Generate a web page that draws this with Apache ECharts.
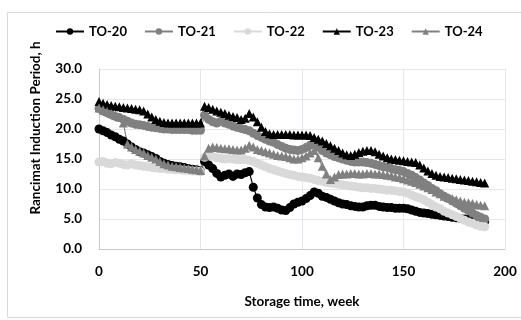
<!DOCTYPE html>
<html>
<head>
<meta charset="utf-8">
<script src="https://cdn.jsdelivr.net/npm/echarts@6/dist/echarts.min.js"></script>
<style>html,body{margin:0;padding:0;background:#fff}#c{width:521px;height:320px}</style>
</head>
<body>
<div id="c"></div>
<script>
var weeks = [0,2,4,6,8,10,12,14,16,18,20,22,24,26,28,30,32,34,36,38,40,42,44,46,48,50,
  52,54,56,58,60,62,64,66,68,70,72,74,76,78,80,82,84,86,88,90,92,94,96,98,100,102,104,106,108,110,
  112,114,116,118,120,122,124,126,128,130,132,134,136,138,140,142,144,146,148,150,152,154,156,158,160,
  162,164,166,168,170,172,174,176,178,180,182,184,186,188,190];
var seriesNames = ['TO-20','TO-21','TO-22','TO-23','TO-24'];
var to20 = [20.0,19.7,19.4,19.0,18.7,18.3,18.0,17.5,17.0,16.6,16.2,16.0,15.7,15.4,15.1,14.6,14.3,14.1,13.9,13.8,13.7,13.6,13.4,13.3,13.2,13.0,
  14.6,14.0,13.4,12.6,12.0,12.3,12.5,12.1,12.5,12.4,12.7,12.9,10.3,8.5,7.4,7.0,6.9,7.0,6.8,6.5,6.4,6.9,7.5,7.8,8.0,8.4,8.9,9.5,9.3,8.8,
  8.6,8.3,8.0,7.7,7.5,7.4,7.2,7.1,7.0,7.0,7.2,7.3,7.3,7.1,7.0,6.9,6.9,6.8,6.8,6.8,6.7,6.5,6.3,6.1,6.0,
  5.9,5.8,5.7,5.6,5.5,5.4,5.3,5.2,5.1,5.0,4.9,4.8,4.7,4.6,4.6];
var to21 = [23.4,23.0,22.7,22.4,22.1,21.9,21.6,21.3,21.0,20.8,20.7,20.6,20.4,20.3,20.2,20.1,20.0,20.0,19.9,19.9,19.9,19.9,19.9,19.8,19.8,19.8,
  22.3,21.6,21.2,21.0,21.3,21.0,20.8,20.5,20.3,20.1,19.9,19.7,19.3,18.9,18.6,18.3,18.0,17.8,17.4,17.1,16.8,16.6,16.5,16.4,16.6,16.9,17.3,17.6,17.0,16.4,
  16.0,15.7,15.4,15.2,15.0,14.8,14.6,14.5,14.5,14.5,14.4,14.3,14.1,13.9,13.7,13.6,13.4,13.2,13.1,12.9,12.6,12.3,11.9,11.5,11.0,
  10.6,10.1,9.7,9.2,8.8,8.4,8.0,7.6,7.2,6.8,6.4,6.0,5.6,5.3,5.0];
var to22 = [14.5,14.6,14.3,14.2,14.4,14.3,14.1,14.0,14.2,14.0,13.9,13.8,13.7,13.6,13.5,13.4,13.4,13.3,13.3,13.2,13.2,13.1,13.1,13.0,13.0,12.9,
  15.3,15.6,15.4,15.2,15.1,15.0,15.1,15.0,14.9,14.9,14.9,14.8,14.6,14.3,14.0,13.7,13.4,13.2,13.0,12.8,12.6,12.4,12.3,12.1,12.0,11.9,11.8,11.6,11.4,11.3,
  11.1,11.0,10.9,10.8,10.7,10.6,10.5,10.4,10.3,10.2,10.2,10.1,10.1,10.0,9.9,9.8,9.8,9.7,9.6,9.5,9.3,9.0,8.7,8.5,8.2,
  7.8,7.4,7.0,6.7,6.3,6.0,5.7,5.4,5.1,4.8,4.5,4.3,4.0,3.8,3.7];
var to23 = [24.6,24.3,24.1,23.9,23.8,23.7,23.6,23.5,23.4,23.3,23.2,23.0,22.5,22.0,21.6,21.3,21.1,21.0,21.0,21.0,21.0,21.0,21.0,21.0,21.0,21.0,
  23.8,23.6,23.3,23.0,22.8,22.6,22.3,22.1,21.9,21.6,21.8,22.6,22.0,21.2,20.3,19.6,19.2,19.1,19.1,19.1,19.1,19.1,19.0,19.0,19.0,19.0,18.9,18.6,18.3,18.0,
  17.6,17.2,16.8,16.4,16.0,15.7,15.6,15.8,16.1,16.3,16.4,16.4,16.2,15.8,15.5,15.2,15.0,14.9,14.8,14.7,14.6,14.5,14.4,14.0,13.5,
  13.0,12.6,12.3,12.1,12.0,11.9,11.8,11.7,11.6,11.5,11.4,11.3,11.2,11.1,11.0];
var to24 = [23.5,23.2,22.9,22.6,22.3,22.0,21.0,17.5,17.0,16.6,16.3,16.0,15.6,15.3,15.0,14.6,14.2,14.0,13.8,13.7,13.6,13.5,13.4,13.3,13.2,13.1,
  15.5,16.8,17.0,16.9,16.8,16.7,16.7,16.6,16.5,16.5,16.8,17.3,17.0,16.6,16.4,16.2,16.0,15.8,15.6,15.5,15.4,15.2,15.0,15.0,15.2,15.5,16.0,16.4,15.2,13.8,
  12.5,11.6,12.0,12.4,12.5,12.5,12.6,12.6,12.5,12.5,12.6,12.6,12.5,12.5,12.4,12.3,12.2,12.0,11.9,11.7,11.5,11.3,11.1,10.8,10.5,
  10.2,9.9,9.5,9.2,8.8,8.6,8.4,8.2,8.0,7.8,7.7,7.6,7.4,7.3,7.2];
var xTicks = [0,50,100,150,200];
var yTicks = [0,5,10,15,20,25,30];

var FONT = 'Lato';
function pairs(arr){ return weeks.map(function(w,i){ return [w, arr[i]]; }); }
var defs = [
  {name:'TO-20', data:to20, color:'#000000', symbol:'circle', size:9},
  {name:'TO-21', data:to21, color:'#808080', symbol:'circle', size:9},
  {name:'TO-22', data:to22, color:'#d9d9d9', symbol:'circle', size:9},
  {name:'TO-23', data:to23, color:'#000000', symbol:'triangle', size:9},
  {name:'TO-24', data:to24, color:'#808080', symbol:'triangle', size:9}
];
var chart = echarts.init(document.getElementById('c'), null, {renderer:'canvas'});
chart.setOption({
  animation:false,
  backgroundColor:'#ffffff',
  graphic:[
    {type:'rect', shape:{x:7.5,y:12.5,width:520,height:305}, style:{fill:'none', stroke:'#d9d9d9', lineWidth:1}, z:-1},
    {type:'text', x:36, y:128, rotation:Math.PI/2, style:{text:'Rancimat Induction Period, h', font:'bold 13.5px '+FONT, fill:'#000', align:'center', verticalAlign:'middle'}}
  ],
  legend:{
    top:20, left:50, itemWidth:28, itemHeight:8, itemGap:17,
    data:seriesNames,
    textStyle:{fontFamily:FONT, fontWeight:'bold', fontSize:13, color:'#000'}
  },
  grid:{left:99, right:16, top:69, bottom:71},
  xAxis:{
    type:'value', min:xTicks[0], max:xTicks[xTicks.length-1], interval:50,
    name:'Storage time, week', nameLocation:'middle', nameGap:46,
    nameTextStyle:{fontFamily:FONT, fontWeight:'bold', fontSize:13.5, color:'#000'},
    axisLine:{show:true, lineStyle:{color:'#c0cadb', width:1}},
    axisTick:{show:false},
    axisLabel:{fontFamily:FONT, fontWeight:'bold', fontSize:13.5, color:'#000', margin:16},
    splitLine:{show:true, lineStyle:{color:'#e3e7ee', width:1}}
  },
  yAxis:{
    type:'value', min:yTicks[0], max:yTicks[yTicks.length-1], interval:5,
    axisLine:{show:true, lineStyle:{color:'#c0cadb', width:1}},
    axisTick:{show:false},
    axisLabel:{fontFamily:FONT, fontWeight:'bold', fontSize:13.5, color:'#000', margin:17, formatter:function(v){return v.toFixed(1);}},
    splitLine:{show:true, lineStyle:{color:'#e3e7ee', width:1}}
  },
  series: defs.map(function(d){
    return {
      name:d.name, type:'line', data:pairs(d.data),
      symbol:d.symbol, symbolSize:d.size, showSymbol:true,
      itemStyle:{color:d.color, borderWidth:0},
      lineStyle:{color:d.color, width:1.2},
      emphasis:{disabled:true}
    };
  })
});
</script>
</body>
</html>
